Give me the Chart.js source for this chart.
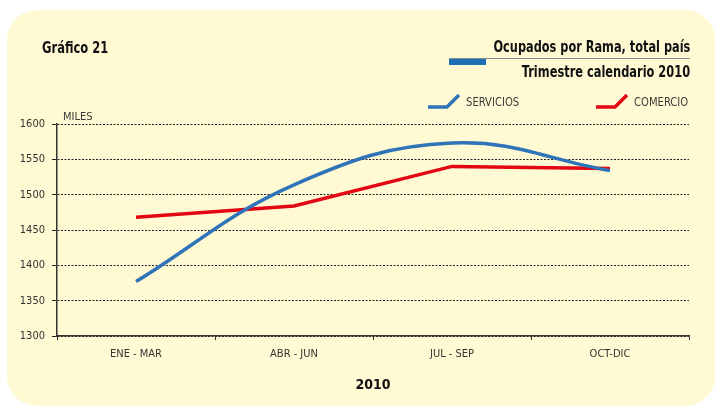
<!DOCTYPE html>
<html>
<head>
<meta charset="utf-8">
<script src="https://cdn.jsdelivr.net/npm/chart.js@4"></script>
<style>
  html,body{margin:0;padding:0;background:#fff;width:719px;height:407px;overflow:hidden}
  #panel{position:absolute;left:7px;top:10px;width:708px;height:396px;background:#fffad3;border-radius:30px}
  #wrap{position:absolute;left:0;top:0;width:719px;height:407px}
  .t{position:absolute;font-family:"DejaVu Sans Condensed","Liberation Sans Narrow","Roboto",sans-serif;font-stretch:condensed;color:#111;white-space:nowrap}
  .b{font-weight:bold}
  .r{transform-origin:right center}
  .l{transform-origin:left center}
  .lg{color:#3a3a3a;font-size:12px}
</style>
</head>
<body>
<div id="panel"></div>
<div id="wrap"><canvas id="c" width="719" height="407"></canvas></div>

<div class="t b l" style="left:42px;top:38px;font-size:16px;transform:scaleX(0.8)">Gráfico 21</div>
<div class="t b r" style="right:29px;top:38px;font-size:15px;transform:scaleX(0.84)">Ocupados por Rama, total país</div>
<div style="position:absolute;left:449px;top:58px;width:241px;height:1px;background:#8a8a8a"></div>
<div style="position:absolute;left:449px;top:59px;width:37px;height:6px;background:#1a6fb5"></div>
<div class="t b r" style="right:29px;top:63px;font-size:15px;transform:scaleX(0.845)">Trimestre calendario 2010</div>

<svg style="position:absolute;left:0;top:0" width="719" height="407">
  <polyline points="428,107 447,107 459,95" fill="none" stroke="#2f73b8" stroke-width="3.5"/>
  <polyline points="596,107 615,107 627,95" fill="none" stroke="#e30613" stroke-width="3.5"/>
</svg>
<div class="t lg l" style="left:466px;top:95px;transform:scaleX(0.93)">SERVICIOS</div>
<div class="t lg l" style="left:634px;top:95px;transform:scaleX(0.93)">COMERCIO</div>
<div class="t lg" style="left:63px;top:110px;font-size:11px">MILES</div>

<script>
// datos
const trimestres = ['ENE - MAR', 'ABR - JUN', 'JUL - SEP', 'OCT-DIC'];
const servicios = [1377, 1514, 1573, 1534];
const comercio = [1468, 1484, 1540, 1537];
const yTicks = [1300, 1350, 1400, 1450, 1500, 1550, 1600];

const fontNarrow = '"DejaVu Sans Condensed","Liberation Sans Narrow","Roboto",sans-serif';

new Chart(document.getElementById('c'), {
  type: 'line',
  data: {
    labels: trimestres,
    datasets: [
      {label: 'SERVICIOS', data: servicios, borderColor: '#2f73b8', borderWidth: 3.5, tension: 0.4, pointRadius: 0, fill: false},
      {label: 'COMERCIO', data: comercio, borderColor: '#e30613', borderWidth: 3.5, tension: 0, pointRadius: 0, fill: false}
    ]
  },
  options: {
    responsive: false,
    animation: false,
    layout: {padding: {left: 0, top: 124, right: 30, bottom: 0}},
    plugins: {legend: {display: false}, tooltip: {enabled: false}},
    scales: {
      x: {
        offset: true,
        grid: {display: true, drawOnChartArea: false, drawTicks: true, tickLength: 4, offset: true, color: '#333'},
        border: {color: '#333', width: 1.5},
        ticks: {color: '#333', font: {family: fontNarrow, size: 11}, padding: 8, maxRotation: 0},
        title: {display: true, text: '2010', color: '#111', font: {family: fontNarrow, size: 14, weight: 'bold'}, padding: {top: 4, bottom: 13}},
        afterFit: s => { s.height = 71; }
      },
      y: {
        min: 1300, max: 1600,
        afterBuildTicks: s => { s.ticks = yTicks.map(v => ({value: v})); },
        grid: {color: '#222', lineWidth: 1, tickLength: 5},
        border: {color: '#333', width: 1.5, dash: [2, 1.5]},
        ticks: {color: '#333', font: {family: fontNarrow, size: 11}, padding: 7, callback: v => String(v)},
        afterFit: s => { s.width = 57; }
      }
    }
  }
});
</script>
</body>
</html>
